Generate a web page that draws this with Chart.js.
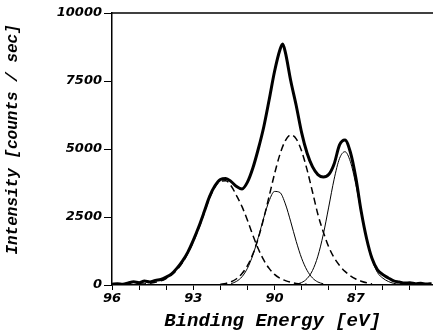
<!DOCTYPE html>
<html lang="en">
<head>
<meta charset="UTF-8" />
<title>XPS spectrum</title>
<script src="https://cdn.jsdelivr.net/npm/chart.js"></script>
<style>
  html, body { margin: 0; padding: 0; background: #fff; }
  canvas { display: block; }
</style>
</head>
<body>
<canvas id="xps" width="433" height="334"></canvas>
<script>
// measured spectrum (thick line)
const energy = [96.0, 95.8, 95.6, 95.4, 95.2, 95.0, 94.8, 94.6, 94.4, 94.2, 94.0, 93.8, 93.6, 93.4, 93.2, 93.0,
  92.8, 92.6, 92.4, 92.2, 92.0, 91.8, 91.6, 91.4, 91.2, 91.0, 90.8, 90.6, 90.4, 90.2, 90.0, 89.8, 89.7, 89.6, 89.4,
  89.2, 89.0, 88.8, 88.6, 88.4, 88.2, 88.0, 87.8, 87.6, 87.4, 87.2, 87.0, 86.8, 86.6, 86.4, 86.2, 86.0, 85.8,
  85.6, 85.4, 85.2, 85.0, 84.8, 84.6, 84.4, 84.2];
const measured = [25, 45, 30, 75, 120, 80, 150, 110, 170, 200, 290, 410, 620, 880, 1210, 1640,
  2130, 2680, 3250, 3650, 3880, 3920, 3800, 3620, 3530, 3780, 4300, 5000, 5800, 6800, 7850, 8650, 8860, 8550, 7500,
  6600, 5600, 4850, 4350, 4060, 3970, 4060, 4450, 5150, 5330, 4880, 3950, 2700, 1700, 970, 560, 380, 260,
  150, 110, 70, 85, 45, 60, 35, 50];

// fitted components
const peak1Energy = [95.0, 94.8, 94.6, 94.4, 94.2, 94.0, 93.8, 93.6, 93.4, 93.2, 93.0, 92.8, 92.6, 92.4, 92.2, 92.0,
  91.8, 91.6, 91.4, 91.2, 91.0, 90.8, 90.6, 90.4, 90.2, 90.0, 89.8, 89.6, 89.4, 89.2, 89.0, 88.8];
const peak1 = [30, 40, 65, 100, 150, 240, 370, 560, 820, 1170, 1590, 2080, 2640, 3200, 3600, 3820,
  3830, 3640, 3280, 2880, 2380, 1830, 1330, 920, 610, 390, 250, 160, 100, 60, 35, 20];

const peak2Energy = [91.6, 91.4, 91.2, 91.0, 90.8, 90.6, 90.4, 90.2, 90.0, 89.8, 89.6, 89.4, 89.2, 89.0, 88.8, 88.6, 88.4, 88.2];
const peak2 = [50, 135, 305, 615, 1100, 1745, 2465, 3090, 3440, 3400, 2980, 2320, 1605, 985, 540, 260, 110, 45];

const peak3Energy = [92.0, 91.8, 91.6, 91.4, 91.2, 91.0, 90.8, 90.6, 90.4, 90.2, 90.0, 89.8, 89.6, 89.4, 89.2,
  89.0, 88.8, 88.6, 88.4, 88.2, 88.0, 87.8, 87.6, 87.4, 87.2, 87.0, 86.8, 86.6, 86.4];
const peak3 = [30, 60, 120, 230, 420, 710, 1140, 1720, 2445, 3260, 4085, 4805, 5310, 5515, 5375,
  4925, 4240, 3430, 2600, 1950, 1400, 1000, 720, 500, 340, 220, 140, 80, 40];

const peak4Energy = [89.2, 89.0, 88.8, 88.6, 88.4, 88.2, 88.0, 87.8, 87.6, 87.4, 87.2, 87.0, 86.8, 86.6, 86.4,
  86.2, 86.0, 85.8, 85.6, 85.4];
const peak4 = [30, 90, 235, 530, 1060, 1860, 2865, 3890, 4655, 4900, 4535, 3700, 2655, 1680, 935,
  460, 250, 130, 60, 25];

const yTicks = [0, 2500, 5000, 7500, 10000];
const xLabelled = [96, 93, 90, 87];

const pts = (xs, ys) => xs.map((x, i) => ({ x: x, y: ys[i] }));

const tickFont = { family: 'DejaVu Sans', size: 13, weight: 'bold', style: 'italic' };
const titleFont = { family: 'Liberation Mono', size: 19, weight: 'bold', style: 'italic' };

// line along the top of the plot area
const frameTop = {
  id: 'frameTop',
  afterDraw(chart) {
    const { ctx, chartArea } = chart;
    ctx.save();
    ctx.strokeStyle = '#000';
    ctx.lineWidth = 1.5;
    ctx.beginPath();
    ctx.moveTo(chartArea.left, chartArea.top);
    ctx.lineTo(chartArea.right, chartArea.top);
    ctx.stroke();
    ctx.restore();
  }
};

const line = (data, width, dash) => ({
  data: data,
  borderColor: '#000',
  borderWidth: width,
  borderDash: dash || [],
  pointRadius: 0,
  cubicInterpolationMode: 'monotone',
  fill: false
});

new Chart(document.getElementById('xps'), {
  type: 'line',
  data: {
    datasets: [
      line(pts(energy, measured), 3),
      line(pts(peak1Energy, peak1), 1.5, [7, 4]),
      line(pts(peak2Energy, peak2), 1),
      line(pts(peak3Energy, peak3), 1.5, [7, 4]),
      line(pts(peak4Energy, peak4), 1)
    ]
  },
  options: {
    responsive: false,
    animation: false,
    devicePixelRatio: 1,
    layout: { padding: { top: 13, right: 0, bottom: 0, left: 0 } },
    plugins: { legend: { display: false }, tooltip: { enabled: false } },
    scales: {
      x: {
        type: 'linear',
        reverse: true,
        min: 84.15,
        max: 96,
        afterFit: s => { s.height = 49; },
        ticks: {
          stepSize: 1,
          includeBounds: false,
          autoSkip: false,
          maxRotation: 0,
          maxTicksLimit: 20,
          padding: 1,
          color: '#000',
          font: tickFont,
          callback: v => (xLabelled.includes(v) ? String(v) : '')
        },
        grid: { drawOnChartArea: false, tickLength: 5, color: '#000', lineWidth: 1 },
        border: { color: '#000', width: 1.5 },
        title: {
          display: true,
          text: 'Binding Energy [eV]',
          color: '#000',
          font: titleFont,
          padding: { top: 0, bottom: 1 }
        }
      },
      y: {
        min: 0,
        max: 10000,
        afterFit: s => { s.width = 112; },
        afterBuildTicks: s => { s.ticks = yTicks.map(v => ({ value: v })); },
        ticks: {
          padding: 2,
          color: '#000',
          font: tickFont,
          callback: v => String(v)
        },
        grid: { drawOnChartArea: false, tickLength: 8, color: '#000', lineWidth: 1 },
        border: { color: '#000', width: 1.5 },
        title: {
          display: true,
          text: '  Intensity [counts / sec]',
          color: '#000',
          font: { family: 'Liberation Mono', size: 16, weight: 'bold', style: 'italic' },
          padding: { top: 3, bottom: 0 }
        }
      }
    }
  },
  plugins: [frameTop]
});
</script>
</body>
</html>
